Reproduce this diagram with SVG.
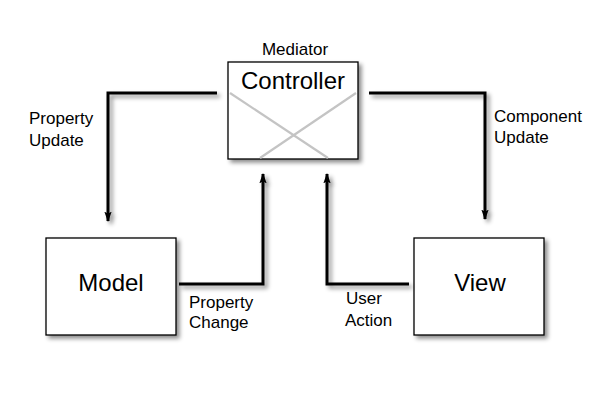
<svg xmlns="http://www.w3.org/2000/svg" width="600" height="400" viewBox="0 0 600 400">
<defs>
<filter id="sh" x="-20%" y="-20%" width="150%" height="150%">
<feDropShadow dx="3" dy="3" stdDeviation="2" flood-color="#000" flood-opacity="0.45"/>
</filter>
<marker id="ah" viewBox="0 0 10 10" refX="9" refY="5" markerWidth="3.5" markerHeight="3.5" orient="auto" markerUnits="strokeWidth">
<path d="M0,1.5 L10,5 L0,8.5 L2,5 Z" fill="#000"/>
</marker>
<style>
.box{fill:#fff;stroke:#000;stroke-width:1.3;filter:url(#sh)}
.big{font-family:"Liberation Sans",Arial,sans-serif;font-size:24px;fill:#000;text-anchor:middle}
.lbl{font-family:"Liberation Sans",Arial,sans-serif;font-size:17px;fill:#000}
.conn{fill:none;stroke:#000;stroke-width:3;filter:url(#sh);marker-end:url(#ah)}
.x{stroke:#c4c4c4;stroke-width:2.2}
</style>
</defs>
<rect width="600" height="400" fill="#fff"/>
<g id="controller">
<rect class="box" x="228" y="62" width="130" height="97"/>
<line class="x" x1="230" y1="93" x2="328" y2="158"/>
<line class="x" x1="356" y1="93" x2="260" y2="158"/>
<text class="big" x="293" y="89">Controller</text>
<text class="lbl" x="295" y="55" text-anchor="middle">Mediator</text>
</g>
<g id="model">
<rect class="box" x="46" y="238" width="130" height="97"/>
<text class="big" x="111" y="291">Model</text>
</g>
<g id="view">
<rect class="box" x="414" y="238" width="130" height="97"/>
<text class="big" x="480" y="291">View</text>
</g>
<g id="connectors">
<path class="conn" d="M217,93 H108 V221"/>
<path class="conn" d="M369,93 H485 V219"/>
<path class="conn" d="M179,284 H263 V174"/>
<path class="conn" d="M409,284 H327 V174"/>
<text class="lbl" x="29" y="124">Property</text>
<text class="lbl" x="29" y="146">Update</text>
<text class="lbl" x="494" y="122">Component</text>
<text class="lbl" x="494" y="143">Update</text>
<text class="lbl" x="189" y="308">Property</text>
<text class="lbl" x="189" y="328">Change</text>
<text class="lbl" x="346" y="304">User</text>
<text class="lbl" x="345" y="326">Action</text>
</g>
</svg>
